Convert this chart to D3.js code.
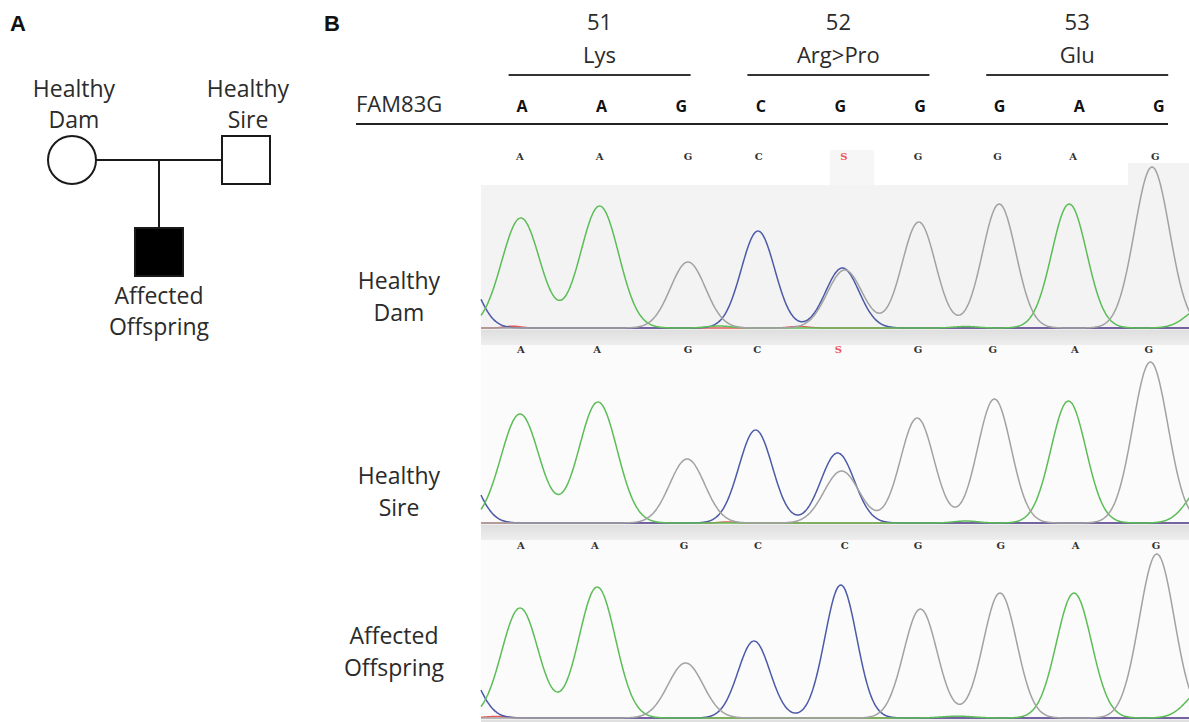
<!DOCTYPE html>
<html lang="en">
<head>
  <meta charset="UTF-8">
  <title>FAM83G pedigree and chromatograms</title>
  <script src="https://d3js.org/d3.v7.min.js"></script>
  <style>
    body { margin: 0; background: #fff; }
    text { font-family: "Open Sans", "Noto Sans", sans-serif; fill: #2b2b2b; }
  </style>
</head>
<body>
  <div class="canvas"></div>
  <script>
    // ---- data ----
    // pedigree: generation, column, sex, affected
    const members = [
      { name: ['Healthy', 'Dam'], sex: 'F', affected: false, gen: 0, col: 0 },
      { name: ['Healthy', 'Sire'], sex: 'M', affected: false, gen: 0, col: 2 },
      { name: ['Affected', 'Offspring'], sex: 'M', affected: true, gen: 1, col: 1 }
    ];

    const geneName = 'FAM83G';
    const refBases = ['A', 'A', 'G', 'C', 'G', 'G', 'G', 'A', 'G'];
    const codonNums = [51, 52, 53];
    const codonNames = ['Lys', 'Arg>Pro', 'Glu'];
    const codonCenters = [1, 4, 7];

    const traceNames = [['Healthy', 'Dam'], ['Healthy', 'Sire'], ['Affected', 'Offspring']];

    // base calls and their positions (in base units)
    const damCalls = ['A', 'A', 'G', 'C', 'S', 'G', 'G', 'A', 'G'];
    const damCallPos = [0, 1.0, 2.11, 3.0, 4.07, 5.0, 6.0, 6.95, 7.98];
    const sireCalls = ['A', 'A', 'G', 'C', 'S', 'G', 'G', 'A', 'G'];
    const sireCallPos = [0.01, 0.97, 2.11, 2.98, 4.0, 5.0, 5.94, 6.97, 7.9];
    const offCalls = ['A', 'A', 'G', 'C', 'C', 'G', 'G', 'A', 'G'];
    const offCallPos = [0.01, 0.94, 2.06, 2.99, 4.08, 5.0, 6.04, 6.98, 7.99];

    // peaks: [channel, position (bases), signal, width (bases)]
    const damPeaks = [
      ['C', -0.75, 620, 0.21], ['A', 0.01, 1100, 0.24], ['A', 1.0, 1220, 0.24],
      ['G', 2.11, 660, 0.22], ['C', 2.99, 970, 0.21], ['C', 4.05, 600, 0.21],
      ['G', 4.08, 580, 0.22], ['G', 5.01, 1060, 0.21], ['G', 6.02, 1240, 0.21],
      ['A', 6.9, 1240, 0.22], ['G', 7.94, 1610, 0.22], ['A', 8.6, 220, 0.21],
      ['T', -0.09, 18, 0.1], ['T', 3.5, 15, 0.12], ['A', 2.5, 20, 0.15], ['A', 5.6, 15, 0.15]
    ];
    const sirePeaks = [
      ['C', -0.75, 600, 0.21], ['A', 0.0, 1090, 0.24], ['A', 0.98, 1210, 0.24],
      ['G', 2.1, 640, 0.22], ['C', 2.96, 930, 0.21], ['C', 3.99, 700, 0.21],
      ['G', 4.04, 520, 0.22], ['G', 4.99, 1050, 0.21], ['G', 5.96, 1240, 0.21],
      ['A', 6.89, 1220, 0.22], ['G', 7.92, 1610, 0.22], ['A', 8.6, 380, 0.21],
      ['T', 2.6, 10, 0.1], ['A', 5.6, 20, 0.15]
    ];
    const offPeaks = [
      ['C', -0.75, 600, 0.21], ['A', 0.0, 1100, 0.23], ['A', 0.97, 1310, 0.23],
      ['G', 2.08, 550, 0.22], ['C', 2.94, 770, 0.2], ['C', 4.03, 1330, 0.2],
      ['G', 5.03, 1090, 0.21], ['G', 6.03, 1250, 0.21], ['A', 6.96, 1250, 0.22],
      ['G', 8.0, 1640, 0.22], ['A', 8.6, 300, 0.21],
      ['T', -0.3, 15, 0.15], ['A', 5.5, 18, 0.2]
    ];

    const traces = [
      { name: traceNames[0], calls: damCalls, callPos: damCallPos, peaks: damPeaks },
      { name: traceNames[1], calls: sireCalls, callPos: sireCallPos, peaks: sirePeaks },
      { name: traceNames[2], calls: offCalls, callPos: offCallPos, peaks: offPeaks }
    ];

    // ---- layout ----
    const width = 1189;
    const height = 722;
    const colors = { A: '#5cbd57', C: '#4c5aa8', G: '#a2a2a2', T: '#e65a5a' };
    const panels = [
      { top: 185, base: 328, labelY: 160, bg: '#f3f3f3' },
      { top: 345, base: 523, labelY: 353, bg: '#fbfbfb' },
      { top: 540, base: 718, labelY: 549, bg: '#fbfbfb' }
    ];
    const chromLeft = 481;

    const svg = d3.select('.canvas')
      .append('svg')
      .attr('width', width)
      .attr('height', height);

    const defs = svg.append('defs');
    const grad = defs.append('linearGradient')
      .attr('id', 'sep').attr('x1', 0).attr('x2', 0).attr('y1', 0).attr('y2', 1);
    grad.append('stop').attr('offset', '0%').attr('stop-color', '#dedede');
    grad.append('stop').attr('offset', '100%').attr('stop-color', '#eeeeee');

    // panel letters
    svg.selectAll('text.panel')
      .data([['A', 10], ['B', 324]])
      .join('text')
      .attr('class', 'panel')
      .attr('x', d => d[1])
      .attr('y', 31)
      .style('font-family', '"Liberation Sans", Arial, sans-serif')
      .style('font-weight', 'bold')
      .style('font-size', '22px')
      .style('fill', '#111')
      .text(d => d[0]);

    // ---- A: pedigree ----
    const px = d3.scaleLinear().domain([0, 2]).range([72, 246]);
    const py = d3.scaleLinear().domain([0, 1]).range([160, 252]);
    const half = 24;
    const ped = svg.append('g');

    const dam = members[0], sire = members[1], kid = members[2];
    ped.append('line')
      .attr('x1', px(dam.col) + half).attr('x2', px(sire.col) - half)
      .attr('y1', py(dam.gen)).attr('y2', py(sire.gen))
      .attr('stroke', '#1a1a1a').attr('stroke-width', 2);
    ped.append('line')
      .attr('x1', px(kid.col)).attr('x2', px(kid.col))
      .attr('y1', py(0)).attr('y2', py(kid.gen) - half)
      .attr('stroke', '#1a1a1a').attr('stroke-width', 2);

    members.forEach(m => {
      const cx = px(m.col), cy = py(m.gen);
      const shape = m.sex === 'F'
        ? ped.append('circle').attr('cx', cx).attr('cy', cy).attr('r', half)
        : ped.append('rect').attr('x', cx - half).attr('y', cy - half)
            .attr('width', half * 2).attr('height', half * 2);
      shape.attr('fill', m.affected ? '#000' : '#fff')
        .attr('stroke', '#1a1a1a').attr('stroke-width', 2);

      const lines = m.gen === 0 ? [cy - 63, cy - 32] : [cy + 52, cy + 83];
      m.name.forEach((t, i) => {
        ped.append('text')
          .attr('x', cx + (m.gen === 0 ? 2 : 0))
          .attr('y', lines[i])
          .attr('text-anchor', 'middle')
          .style('font-size', '23px')
          .text(t);
      });
    });

    // ---- B: header ----
    const x = d3.scaleLinear().domain([0, 8]).range([520, 1156.8]);

    const head = svg.append('g');
    codonNums.forEach((n, i) => {
      const cx = x(codonCenters[i]);
      head.append('text').attr('x', cx).attr('y', 30)
        .attr('text-anchor', 'middle').style('font-size', '22px').text(n);
      head.append('text').attr('x', cx).attr('y', 63)
        .attr('text-anchor', 'middle').style('font-size', '22px').text(codonNames[i]);
      head.append('line')
        .attr('x1', cx - 91).attr('x2', cx + 91)
        .attr('y1', 75).attr('y2', 75)
        .attr('stroke', '#333').attr('stroke-width', 2);
    });

    head.append('text').attr('x', 356).attr('y', 112)
      .style('font-size', '22px').text(geneName);
    head.selectAll('text.ref')
      .data(refBases)
      .join('text')
      .attr('class', 'ref')
      .attr('x', (d, i) => x(i) + 2)
      .attr('y', 112)
      .attr('text-anchor', 'middle')
      .style('font-size', '16px')
      .style('font-weight', 'bold')
      .style('fill', '#111')
      .text(d => d);
    head.append('line')
      .attr('x1', 356).attr('x2', 1168)
      .attr('y1', 124).attr('y2', 124)
      .attr('stroke', '#222').attr('stroke-width', 2);

    // ---- B: chromatograms ----
    const chrom = svg.append('g');

    // backgrounds and separators
    panels.forEach(p => {
      chrom.append('rect')
        .attr('x', chromLeft).attr('y', p.top)
        .attr('width', width - chromLeft).attr('height', p.base - p.top + 1)
        .attr('fill', p.bg);
      chrom.append('rect')
        .attr('x', chromLeft).attr('y', p.base + 1.5)
        .attr('width', width - chromLeft).attr('height', 15.5)
        .attr('fill', 'url(#sep)');
    });
    // window edges in the first trace's label row
    chrom.append('rect').attr('x', 830).attr('y', 150)
      .attr('width', 44).attr('height', 35).attr('fill', '#f6f6f6');
    chrom.append('rect').attr('x', 1128).attr('y', 163)
      .attr('width', width - 1128).attr('height', 22).attr('fill', '#f3f3f3');

    const xs = d3.range(x.invert(chromLeft), x.invert(width) + 0.01, 0.01);

    traces.forEach((tr, ti) => {
      const p = panels[ti];
      const y = d3.scaleLinear().domain([0, 2000]).range([p.base, p.base - 200]);
      const g = chrom.append('g');

      ['T', 'C', 'A', 'G'].forEach(ch => {
        const pk = tr.peaks.filter(d => d[0] === ch);
        const signal = xs.map(v => [v, d3.sum(pk, d => d[2] * Math.exp(-((v - d[1]) ** 2) / (2 * d[3] * d[3])))]);
        g.append('path')
          .datum(signal)
          .attr('fill', 'none')
          .attr('stroke', colors[ch])
          .attr('stroke-width', 1.5)
          .attr('stroke-linejoin', 'round')
          .attr('d', d3.line().x(d => x(d[0])).y(d => y(d[1])).curve(d3.curveBasis));
      });

      // base calls
      g.selectAll('text.call')
        .data(tr.calls)
        .join('text')
        .attr('class', 'call')
        .attr('x', (d, i) => x(tr.callPos[i]))
        .attr('y', p.labelY)
        .attr('text-anchor', 'middle')
        .style('font-family', '"DejaVu Serif", serif')
        .style('font-weight', 'bold')
        .style('font-size', '10px')
        .style('fill', d => d === 'S' ? '#f05a5a' : '#333')
        .text(d => d);

      // sample name
      tr.name.forEach((t, i) => {
        g.append('text')
          .attr('x', ti === 2 ? 394 : 399)
          .attr('y', p.base - 39 + i * 32 - (ti === 2 ? 35 : 0))
          .attr('text-anchor', 'middle')
          .style('font-size', '23px')
          .text(t);
      });
    });
  </script>
</body>
</html>
